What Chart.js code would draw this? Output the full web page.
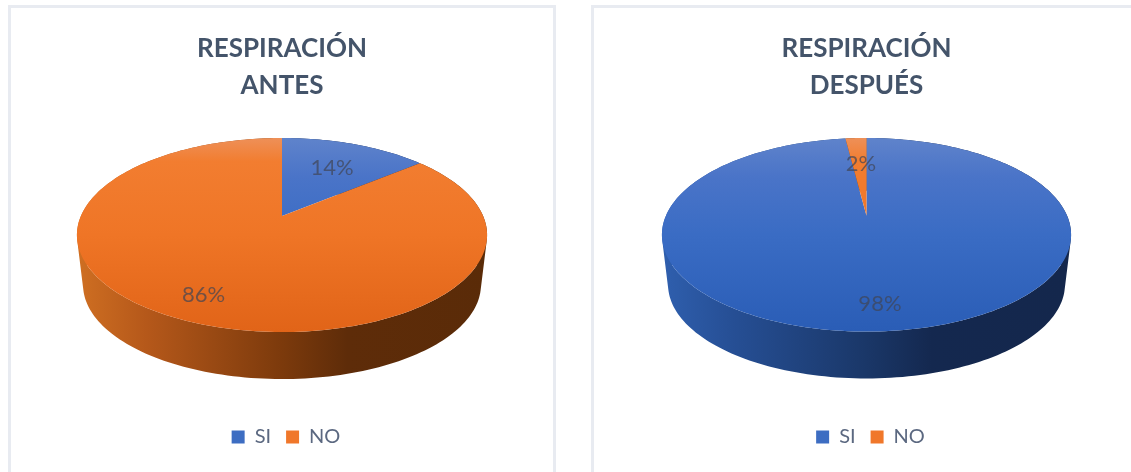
<!DOCTYPE html>
<html>
<head>
<meta charset="utf-8">
<title>Respiración</title>
<script src="https://cdn.jsdelivr.net/npm/chart.js@4/dist/chart.umd.min.js"></script>
<style>
  html, body { margin: 0; background: #fff; overflow: hidden; }
  body { position: relative; width: 1131px; height: 472px; }
  .panel { position: absolute; top: 5px; height: 500px; box-sizing: border-box; border: 3px solid #e8ebf1; }
  canvas { position: absolute; top: 0; }
</style>
</head>
<body>
<div class="panel" style="left:8px;width:548px"></div>
<div class="panel" style="left:591px;width:551px"></div>
<canvas id="antes" width="548" height="472" style="left:8px"></canvas>
<canvas id="despues" width="551" height="472" style="left:591px"></canvas>
<script>
var categories = ['SI', 'NO'];
var antesValues = [14, 86];
var despuesValues = [98, 2];
var antesTitle = ['RESPIRACIÓN', 'ANTES'];
var despuesTitle = ['RESPIRACIÓN', 'DESPUÉS'];

var legendColors = ['#3d6dc2', '#f0772a'];
var faceStops = [
  [[0, '#5f83cb'], [0.2, '#4a74c8'], [0.5, '#3a6cc4'], [1, '#2a5db6']],
  [[0, '#ee9058'], [0.12, '#f27d30'], [0.5, '#ef7526'], [1, '#e16418']]
];
var wallStops = [
  [[0, '#2f5fae'], [0.17, '#264f95'], [0.5, '#1a3768'], [0.66, '#14284f'], [1, '#14274c']],
  [[0, '#cf6f22'], [0.17, '#b5581a'], [0.5, '#7c3a0c'], [0.66, '#5e2c09'], [1, '#5a2b08']]
];

function gradient(ctx, x0, y0, x1, y1, stops) {
  var g = ctx.createLinearGradient(x0, y0, x1, y1);
  stops.forEach(function (s) { g.addColorStop(s[0], s[1]); });
  return g;
}

// perspective view of the disc, angle measured clockwise from 12 o'clock
function ringPoint(view, angle, r, low) {
  var x = r * Math.sin(angle), z = r * Math.cos(angle);
  var w = 1 + view.k * z;
  var s = low ? view.lowScale : 1;
  return {
    x: view.cx + s * view.a * x / w,
    y: view.cy + (low ? view.drop : 0) - s * view.b * z / w
  };
}

function stepCount(from, to) {
  return Math.max(4, Math.ceil(Math.abs(to - from) * 40));
}

function tracePart(ctx, view, from, to) {
  var steps = stepCount(from, to);
  for (var i = 0; i <= steps; i++) {
    var p = ringPoint(view, from + (to - from) * i / steps, 1, false);
    ctx.lineTo(p.x, p.y);
  }
}

// one quad per rim step, all wound the same way so the fill has no holes
function traceWall(ctx, view, from, to) {
  var steps = stepCount(from, to);
  for (var i = 0; i < steps; i++) {
    var t0 = from + (to - from) * i / steps, t1 = from + (to - from) * (i + 1) / steps;
    var q = [ringPoint(view, t0, 1, false), ringPoint(view, t1, 1, false),
             ringPoint(view, t1, 1, true), ringPoint(view, t0, 1, true)];
    var area = 0;
    q.forEach(function (p, n) {
      var o = q[(n + 1) % 4];
      area += p.x * o.y - o.x * p.y;
    });
    if (area < 0) q.reverse();
    ctx.moveTo(q[0].x, q[0].y);
    ctx.lineTo(q[1].x, q[1].y);
    ctx.lineTo(q[2].x, q[2].y);
    ctx.lineTo(q[3].x, q[3].y);
    ctx.closePath();
  }
}

var pie3d = {
  id: 'pie3d',
  afterLayout: function (chart) {
    // legend sits a little right of the disc centre
    chart.legend.left += 4;
    chart.legend.right += 4;
  },
  beforeDatasetsDraw: function (chart) {
    var ctx = chart.ctx, area = chart.chartArea;
    var rx = area.width / 2;
    var view = {
      cx: (area.left + area.right) / 2,
      cy: area.top + rx * 0.3805,
      a: rx * 0.981,
      b: rx * 0.4551,
      k: 0.196,
      drop: rx * 0.2463,
      lowScale: 0.97
    };
    var faceTop = area.top, faceBottom = area.top + rx * 0.946;
    var arcs = chart.getDatasetMeta(0).data;
    var offset = Math.PI / 2;

    ctx.save();
    // side walls first, the top face covers whatever lies behind it
    arcs.forEach(function (arc, i) {
      ctx.beginPath();
      traceWall(ctx, view, arc.startAngle + offset, arc.endAngle + offset);
      ctx.fillStyle = gradient(ctx, area.left, 0, area.right, 0, wallStops[i]);
      ctx.fill();
    });
    arcs.forEach(function (arc, i) {
      var from = arc.startAngle + offset, to = arc.endAngle + offset;
      var c = ringPoint(view, 0, 0, false);
      ctx.beginPath();
      ctx.moveTo(c.x, c.y);
      tracePart(ctx, view, from, to);
      ctx.closePath();
      ctx.fillStyle = gradient(ctx, 0, faceTop, 0, faceBottom, faceStops[i]);
      ctx.fill();
    });

    // percent labels
    var values = chart.data.datasets[0].data;
    var total = values.reduce(function (a, b) { return a + b; }, 0);
    ctx.font = '22px Lato';
    ctx.textAlign = 'center';
    ctx.textBaseline = 'middle';
    ctx.fillStyle = 'rgba(64, 68, 84, 0.7)';
    arcs.forEach(function (arc, i) {
      var mid = (arc.startAngle + arc.endAngle) / 2 + offset;
      var r = Math.cos(mid) > 0 ? 0.63 : 0.8;
      var p = ringPoint(view, mid, r, false);
      ctx.fillText(Math.round(values[i] / total * 100) + '%', p.x + 1.5, p.y);
    });
    ctx.restore();
    return false;
  }
};

function drawPie(id, titleLines, values, sidePad) {
  return new Chart(document.getElementById(id), {
    type: 'pie',
    plugins: [pie3d],
    data: {
      labels: categories,
      datasets: [{ data: values, backgroundColor: legendColors, borderWidth: 0 }]
    },
    options: {
      responsive: false,
      animation: false,
      layout: { padding: { left: sidePad, right: sidePad, bottom: 15 } },
      plugins: {
        tooltip: { enabled: false },
        title: {
          display: true,
          text: titleLines,
          color: '#44546a',
          font: { family: 'Lato', size: 26, weight: 'bold', lineHeight: 1.423 },
          padding: { top: 30, bottom: 34 }
        },
        legend: {
          position: 'bottom',
          labels: {
            color: '#5b6880',
            font: { family: 'Lato', size: 20 },
            boxWidth: 13,
            boxHeight: 13,
            padding: 15
          }
        }
      }
    }
  });
}

drawPie('antes', antesTitle, antesValues, 69);
drawPie('despues', despuesTitle, despuesValues, 71);
</script>
</body>
</html>
